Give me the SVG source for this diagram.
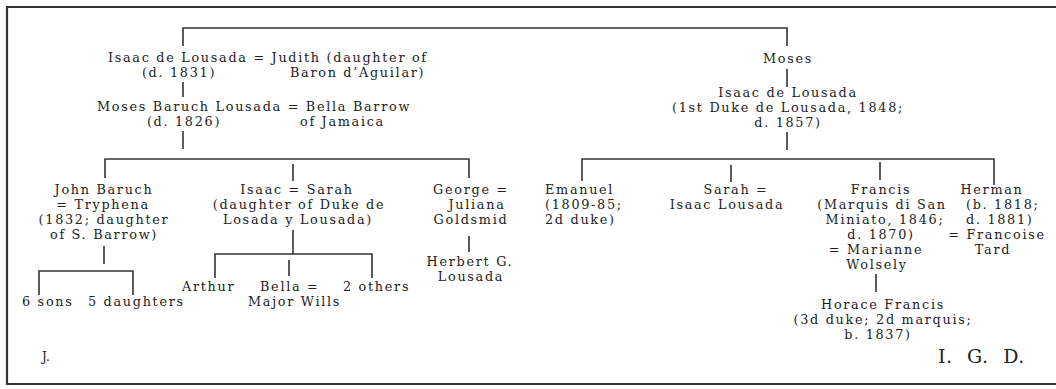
<svg xmlns="http://www.w3.org/2000/svg" width="1056" height="389" viewBox="0 0 1056 389">
<style>
text{font-family:"DejaVu Serif","Liberation Serif",serif;font-size:12.8px;letter-spacing:1.7px;fill:#222}
.m{text-anchor:middle}
.ln{fill:none;stroke:#333;stroke-width:1.6}
.frame{fill:none;stroke:#333;stroke-width:2.2}
.sig{font-size:19px;letter-spacing:0.5px;word-spacing:8px}
.j{font-size:12px;letter-spacing:0}
</style>
<rect width="1056" height="389" fill="#fff"/>
<path class="frame" d="M1056,7 H7 V384 H1056"/>
<g id="connectors">
<path class="ln" d="M183,46 V28 H787 V46"/>
<path class="ln" d="M183,82 V97"/>
<path class="ln" d="M183,131 V149"/>
<path class="ln" d="M105,178 V159 H469 V178"/>
<path class="ln" d="M293,164 V181"/>
<path class="ln" d="M104,246 V264"/>
<path class="ln" d="M39,295 V271 H133 V295"/>
<path class="ln" d="M293,230 V254"/>
<path class="ln" d="M215,278 V254 H372 V278"/>
<path class="ln" d="M289,260 V276"/>
<path class="ln" d="M469,236 V252"/>
<path class="ln" d="M787,69 V87"/>
<path class="ln" d="M787,132 V150"/>
<path class="ln" d="M582,181 V159 H994 V185"/>
<path class="ln" d="M731,165 V182"/>
<path class="ln" d="M880,162 V180"/>
<path class="ln" d="M876,274 V292"/>
</g>
<g id="isaac-judith">
<text><tspan x="108" y="62">Isaac de Lousada = Judith (daughter of</tspan><tspan class="m" x="179" y="77">(d. 1831)</tspan><tspan x="290" y="77">Baron d’Aguilar)</tspan></text>
</g>
<g id="moses-bella">
<text><tspan x="97" y="111">Moses Baruch Lousada = Bella Barrow</tspan><tspan class="m" x="184" y="126">(d. 1826)</tspan><tspan x="300" y="126">of Jamaica</tspan></text>
</g>
<g id="john">
<text class="m"><tspan x="104" y="194">John Baruch</tspan><tspan x="103" y="209">= Tryphena</tspan><tspan x="104" y="224">(1832; daughter</tspan><tspan x="104" y="239">of S. Barrow)</tspan></text>
</g>
<g id="sons"><text x="22" y="306">6 sons</text></g>
<g id="daughters"><text x="88" y="306">5 daughters</text></g>
<g id="isaac-sarah">
<text class="m"><tspan x="297" y="194">Isaac = Sarah</tspan><tspan x="299" y="209">(daughter of Duke de</tspan><tspan x="298" y="224">Losada y Lousada)</tspan></text>
</g>
<g id="arthur"><text x="182" y="291">Arthur</text></g>
<g id="bella">
<text><tspan x="260" y="291">Bella =</tspan><tspan x="248" y="306">Major Wills</tspan></text>
</g>
<g id="others"><text x="343" y="291">2 others</text></g>
<g id="george">
<text class="m"><tspan x="471" y="194">George =</tspan><tspan x="477" y="209">Juliana</tspan><tspan x="471" y="224">Goldsmid</tspan></text>
</g>
<g id="herbert">
<text class="m"><tspan x="470" y="266">Herbert G.</tspan><tspan x="471" y="281">Lousada</tspan></text>
</g>
<g id="moses"><text class="m" x="788" y="63">Moses</text></g>
<g id="isaac-duke">
<text class="m"><tspan x="788" y="97">Isaac de Lousada</tspan><tspan x="788" y="112">(1st Duke de Lousada, 1848;</tspan><tspan x="788" y="127">d. 1857)</tspan></text>
</g>
<g id="emanuel">
<text><tspan x="545" y="194">Emanuel</tspan><tspan x="545" y="209">(1809-85;</tspan><tspan x="545" y="224">2d duke)</tspan></text>
</g>
<g id="sarah">
<text class="m"><tspan x="736" y="194">Sarah =</tspan><tspan x="727" y="209">Isaac Lousada</tspan></text>
</g>
<g id="francis">
<text class="m"><tspan x="881" y="194">Francis</tspan><tspan x="882" y="209">(Marquis di San</tspan><tspan x="885" y="224">Miniato, 1846;</tspan><tspan x="881" y="239">d. 1870)</tspan><tspan x="876" y="254">= Marianne</tspan><tspan x="877" y="269">Wolsely</tspan></text>
</g>
<g id="herman">
<text><tspan class="m" x="992" y="194">Herman</tspan><tspan x="966" y="209">(b. 1818;</tspan><tspan x="966" y="224">d. 1881)</tspan><tspan class="m" x="997" y="239">= Francoise</tspan><tspan class="m" x="993" y="254">Tard</tspan></text>
</g>
<g id="horace">
<text class="m"><tspan x="883" y="309">Horace Francis</tspan><tspan x="883" y="324">(3d duke; 2d marquis;</tspan><tspan x="878" y="339">b. 1837)</tspan></text>
</g>
<text class="j" x="42" y="361">J.</text>
<text class="sig" x="938" y="363">I. G. D.</text>
</svg>
